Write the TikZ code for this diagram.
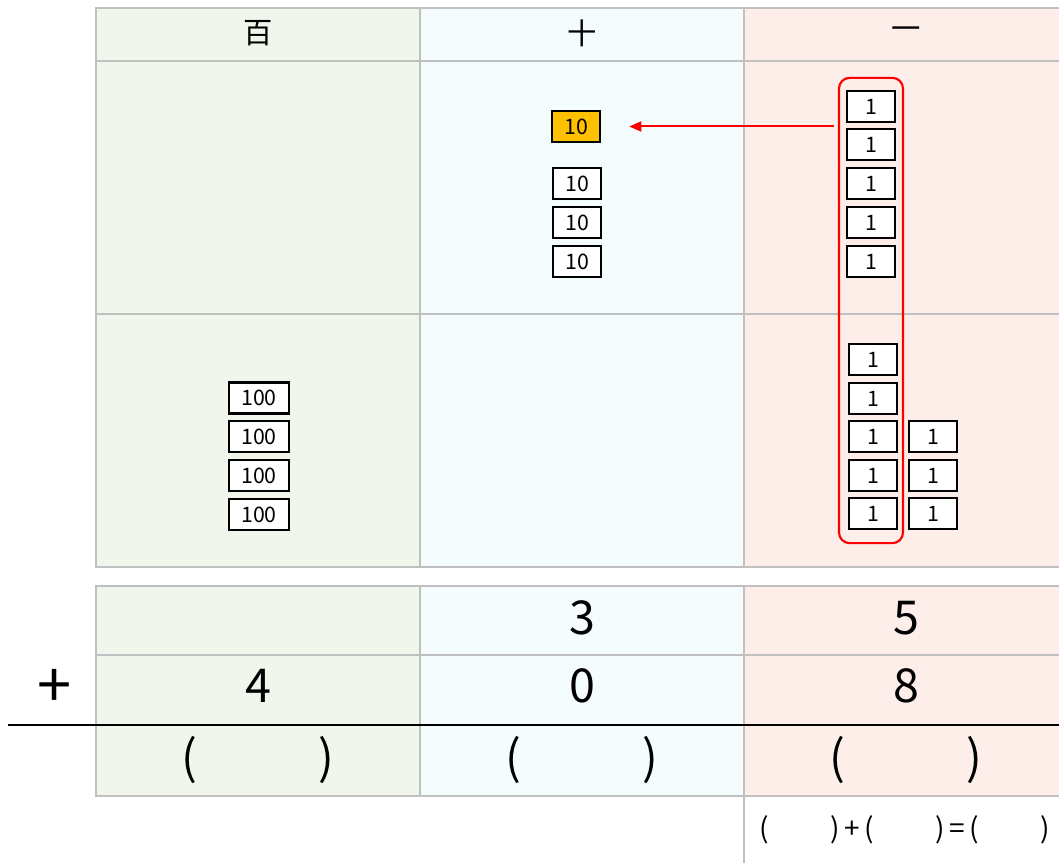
\documentclass[tikz,border=0pt]{standalone}
\usepackage{fontspec}
\setmainfont{Noto Sans CJK JP}
\usetikzlibrary{arrows.meta}

\definecolor{hyakuiro}{RGB}{241,246,236}
\definecolor{juuiro}{RGB}{244,252,253}
\definecolor{ichiiro}{RGB}{253,238,234}
\definecolor{sen}{RGB}{192,192,192}
\definecolor{kuriage}{RGB}{255,192,0}

\begin{document}
\begin{tikzpicture}[x=0.75pt, y=-0.75pt,
    waku/.style={draw=sen, line width=2.2pt},
    chip/.style={draw, line width=1.9pt, fill=white, inner sep=0pt,
        minimum width=36pt, minimum height=23pt,
        font=\fontsize{16}{16}\selectfont},
    chiphyaku/.style={chip, minimum width=45pt},
    midashi/.style={font=\fontsize{22}{22}\selectfont},
    suuji/.style={font=\fontsize{35}{35}\selectfont}]
    \useasboundingbox (0,0) rectangle (1059,863);
    % column colours
    \fill[hyakuiro] (96,8) rectangle (420,567) (96,586) rectangle (420,796);
    \fill[juuiro] (420,8) rectangle (744,567) (420,586) rectangle (744,796);
    \fill[ichiiro] (744,8) rectangle (1059,567) (744,586) rectangle (1059,796);
    % upper table
    \draw[waku] (1059,8) -- (96,8) -- (96,567) -- (1059,567);
    \draw[waku] (96,61) -- (1059,61) (96,314) -- (1059,314);
    \draw[waku] (420,8) -- (420,567) (744,8) -- (744,567);
    % lower table
    \draw[waku] (1059,586) -- (96,586) -- (96,796) -- (1059,796);
    \draw[waku] (96,655) -- (1059,655);
    \draw[waku] (420,586) -- (420,796) (744,586) -- (744,863);
    \draw[line width=2.2pt] (8,725) -- (1059,725);

    \node[midashi] (hyaku) at (258,33) {百};
    \node[midashi] (juu) at (582,33) {十};
    \node[midashi] (ichi) at (906,33) {一};

    % hundreds
    \node[chiphyaku] (h1) at (259,398) {100};
    \node[chiphyaku] (h2) at (259,436.5) {100};
    \node[chiphyaku] (h3) at (259,475.5) {100};
    \node[chiphyaku] (h4) at (259,514.5) {100};

    % tens
    \node[chip, fill=kuriage] (kuri) at (576,126.5) {10};
    \node[chip] (j1) at (577,183.5) {10};
    \node[chip] (j2) at (577,222.5) {10};
    \node[chip] (j3) at (577,261.5) {10};

    % ones
    \node[chip] (a1) at (871,106.5) {1};
    \node[chip] (a2) at (871,144.5) {1};
    \node[chip] (a3) at (871,183.5) {1};
    \node[chip] (a4) at (871,222.5) {1};
    \node[chip] (a5) at (871,261.5) {1};
    \node[chip] (b1) at (873,359.5) {1};
    \node[chip] (b2) at (873,398.5) {1};
    \node[chip] (b3) at (873,436.5) {1};
    \node[chip] (b4) at (873,475.5) {1};
    \node[chip] (b5) at (873,513.5) {1};
    \node[chip] (c1) at (933,436.5) {1};
    \node[chip] (c2) at (933,475.5) {1};
    \node[chip] (c3) at (933,513.5) {1};

    \node[draw=red, line width=1.6pt, rounded corners=8pt, inner sep=0pt,
        minimum width=48pt, minimum height=349pt] (juko) at (871,310.5) {};
    \draw[red, line width=1.5pt, -{Triangle[length=9pt,width=7.5pt]},
        shorten <=3pt, shorten >=21pt] (juko.west |- kuri.east) -- (kuri.east);

    % the sum
    \node[suuji] (p3) at (582,618) {3};
    \node[suuji] (p5) at (906,618) {5};
    \node[font=\fontsize{46}{46}\selectfont] (tasu) at (55,688) {+};
    \node[suuji] (q4) at (258,686) {4};
    \node[suuji] (q0) at (582,686) {0};
    \node[suuji] (q8) at (906,686) {8};
    \node[suuji] (kotae1) at (258,760) {(\hspace{91pt})};
    \node[suuji] (kotae2) at (582,760) {(\hspace{91pt})};
    \node[suuji] (kotae3) at (906,760) {(\hspace{91pt})};
    \node[font=\fontsize{21}{21}\selectfont] (shiki) at (905,830)
        {(\hspace{46pt})\,+\,(\hspace{46pt})\,=\,(\hspace{46pt})};
\end{tikzpicture}
\end{document}
